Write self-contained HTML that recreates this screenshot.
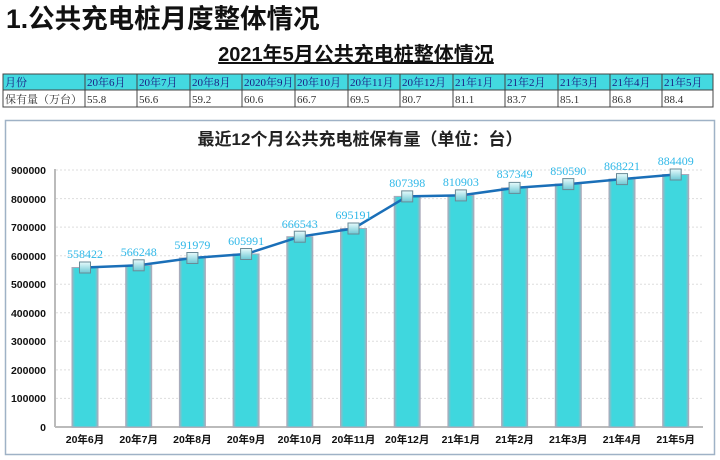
<!DOCTYPE html><html><head><meta charset="utf-8"><style>
body{margin:0;width:720px;height:460px;background:#fff;overflow:hidden;font-family:"Liberation Sans","Noto Sans CJK SC",sans-serif}
</style></head><body>
<svg width="720" height="460" xmlns="http://www.w3.org/2000/svg" style="position:absolute;left:0;top:0">
<defs>
<linearGradient id="bar" x1="0" x2="1"><stop offset="0" stop-color="#9fb4c0"/><stop offset="0.12" stop-color="#3fd7de"/><stop offset="0.88" stop-color="#3fd7de"/><stop offset="1" stop-color="#9fb4c0"/></linearGradient>
<linearGradient id="mk" x1="0" y1="0" x2="0" y2="1"><stop offset="0" stop-color="#e8fbfc"/><stop offset="1" stop-color="#6cc8d4"/></linearGradient>
</defs>
<text x="6" y="28" font-size="26.5" font-weight="bold" fill="#111" font-family="Liberation Sans,'Noto Sans CJK SC',sans-serif">1.公共充电桩月度整体情况</text>
<text x="356" y="61" font-size="20" font-weight="bold" text-anchor="middle" fill="#111" text-decoration="underline" font-family="Liberation Sans,'Noto Sans CJK SC',sans-serif">2021年5月公共充电桩整体情况</text>
<!-- table -->
<g font-family="Liberation Serif,'Noto Serif CJK SC',serif" font-size="11" fill="#1a1a80">
<rect x="3" y="74" width="710" height="16" fill="#43d9e0"/>
<rect x="3" y="74" width="710" height="33" fill="none" stroke="#444" stroke-width="1"/>
<line x1="3" y1="90" x2="713" y2="90" stroke="#444"/>
<g stroke="#444"><line x1="85" y1="74" x2="85" y2="107"/><line x1="137" y1="74" x2="137" y2="107"/><line x1="190" y1="74" x2="190" y2="107"/><line x1="242" y1="74" x2="242" y2="107"/><line x1="295" y1="74" x2="295" y2="107"/><line x1="348" y1="74" x2="348" y2="107"/><line x1="400" y1="74" x2="400" y2="107"/><line x1="453" y1="74" x2="453" y2="107"/><line x1="505" y1="74" x2="505" y2="107"/><line x1="558" y1="74" x2="558" y2="107"/><line x1="610" y1="74" x2="610" y2="107"/><line x1="662" y1="74" x2="662" y2="107"/></g>
<text x="5" y="86">月份</text><text x="87" y="86">20年6月</text><text x="139" y="86">20年7月</text><text x="192" y="86">20年8月</text><text x="244" y="86">2020年9月</text><text x="297" y="86">20年10月</text><text x="350" y="86">20年11月</text><text x="402" y="86">20年12月</text><text x="455" y="86">21年1月</text><text x="507" y="86">21年2月</text><text x="560" y="86">21年3月</text><text x="612" y="86">21年4月</text><text x="664" y="86">21年5月</text>
<g fill="#333"><text x="5" y="103">保有量（万台）</text><text x="87" y="103">55.8</text><text x="139" y="103">56.6</text><text x="192" y="103">59.2</text><text x="244" y="103">60.6</text><text x="297" y="103">66.7</text><text x="350" y="103">69.5</text><text x="402" y="103">80.7</text><text x="455" y="103">81.1</text><text x="507" y="103">83.7</text><text x="560" y="103">85.1</text><text x="612" y="103">86.8</text><text x="664" y="103">88.4</text></g>
</g>
<!-- chart box -->
<rect x="5.5" y="120.5" width="709" height="334" fill="#fff" stroke="#9fb2c6" stroke-width="1.5"/>
<text x="360" y="145" font-size="17" font-weight="bold" text-anchor="middle" fill="#222" font-family="Liberation Sans,'Noto Sans CJK SC',sans-serif">最近12个月公共充电桩保有量（单位：台）</text>
<g stroke="#ddd" stroke-dasharray="2,2"><line x1="56" y1="398.4" x2="703" y2="398.4"/><line x1="56" y1="369.9" x2="703" y2="369.9"/><line x1="56" y1="341.3" x2="703" y2="341.3"/><line x1="56" y1="312.8" x2="703" y2="312.8"/><line x1="56" y1="284.2" x2="703" y2="284.2"/><line x1="56" y1="255.7" x2="703" y2="255.7"/><line x1="56" y1="227.1" x2="703" y2="227.1"/><line x1="56" y1="198.6" x2="703" y2="198.6"/><line x1="56" y1="170" x2="703" y2="170"/></g>
<line x1="55" y1="169" x2="55" y2="427" stroke="#bbb" stroke-width="2"/>
<line x1="55" y1="427" x2="703" y2="427" stroke="#bbb" stroke-width="2"/>
<g font-size="10.5" font-weight="bold" fill="#111" text-anchor="end">
<text x="46" y="431">0</text><text x="46" y="402">100000</text><text x="46" y="374">200000</text><text x="46" y="345">300000</text><text x="46" y="317">400000</text><text x="46" y="288">500000</text><text x="46" y="260">600000</text><text x="46" y="231">700000</text><text x="46" y="203">800000</text><text x="46" y="174">900000</text></g>
<g fill="url(#bar)" stroke="#aab" stroke-width="1">
<rect x="72" y="267.5" width="26" height="159.5"/><rect x="125.7" y="265.3" width="26" height="161.7"/><rect x="179.4" y="258" width="26" height="169"/><rect x="233.1" y="254" width="26" height="173"/><rect x="286.8" y="236.7" width="26" height="190.3"/><rect x="340.5" y="228.5" width="26" height="198.5"/><rect x="394.2" y="196.4" width="26" height="230.6"/><rect x="447.9" y="195.4" width="26" height="231.6"/><rect x="501.6" y="187.9" width="26" height="239.1"/><rect x="555.3" y="184.1" width="26" height="242.9"/><rect x="609" y="179.1" width="26" height="247.9"/><rect x="662.7" y="174.5" width="26" height="252.5"/></g>
<polyline fill="none" stroke="#1a6fb8" stroke-width="2.5" points="85,267.5 138.7,265.3 192.4,258 246.1,254 299.8,236.7 353.5,228.5 407.2,196.4 460.9,195.4 514.6,187.9 568.3,184.1 622,179.1 675.7,174.5"/>
<g fill="url(#mk)" stroke="#6a8a96" stroke-width="1">
<rect x="79.5" y="262" width="11" height="11"/><rect x="133.2" y="259.8" width="11" height="11"/><rect x="186.9" y="252.5" width="11" height="11"/><rect x="240.6" y="248.5" width="11" height="11"/><rect x="294.3" y="231.2" width="11" height="11"/><rect x="348" y="223" width="11" height="11"/><rect x="401.7" y="190.9" width="11" height="11"/><rect x="455.4" y="189.9" width="11" height="11"/><rect x="509.1" y="182.4" width="11" height="11"/><rect x="562.8" y="178.6" width="11" height="11"/><rect x="616.5" y="173.6" width="11" height="11"/><rect x="670.2" y="169" width="11" height="11"/></g>
<g font-size="12" fill="#2fb8e8" text-anchor="middle" font-family="Liberation Serif,serif">
<text x="85" y="258">558422</text><text x="138.7" y="256">566248</text><text x="192.4" y="249">591979</text><text x="246.1" y="245">605991</text><text x="299.8" y="228">666543</text><text x="353.5" y="219">695191</text><text x="407.2" y="187">807398</text><text x="460.9" y="186">810903</text><text x="514.6" y="178">837349</text><text x="568.3" y="175">850590</text><text x="622" y="170">868221</text><text x="675.7" y="165">884409</text></g>
<g font-size="10.5" font-weight="bold" fill="#111" text-anchor="middle">
<text x="85" y="443">20年6月</text><text x="138.7" y="443">20年7月</text><text x="192.4" y="443">20年8月</text><text x="246.1" y="443">20年9月</text><text x="299.8" y="443">20年10月</text><text x="353.5" y="443">20年11月</text><text x="407.2" y="443">20年12月</text><text x="460.9" y="443">21年1月</text><text x="514.6" y="443">21年2月</text><text x="568.3" y="443">21年3月</text><text x="622" y="443">21年4月</text><text x="675.7" y="443">21年5月</text></g>
</svg>
</body></html>
